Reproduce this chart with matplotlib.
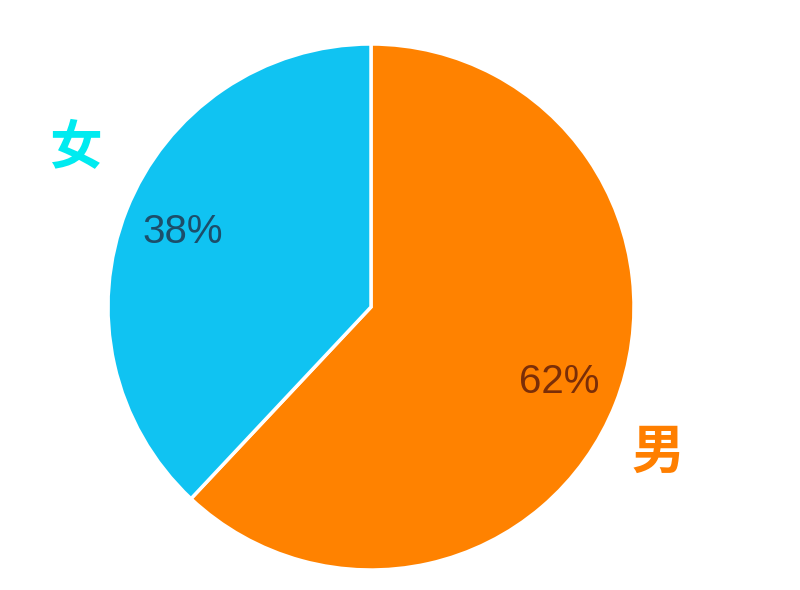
import matplotlib.pyplot as plt

# data
labels = ["男", "女"]
shares = [62, 38]
colors = ["#FF8200", "#10C3F2"]
label_colors = ["#FF7F00", "#00EBF0"]
pct_colors = ["#7A2E08", "#1C4E6A"]

W, H = 800, 590
fig = plt.figure(figsize=(W / 100, H / 100), dpi=100)
ax = fig.add_axes([0, 0, 1, 1])

cx, cy, r = 371, H - 307, 263

wedges, texts, autotexts = ax.pie(
    shares, colors=colors, startangle=90, counterclock=False,
    center=(cx, cy), radius=r, autopct="%d%%", pctdistance=0.77,
    wedgeprops=dict(edgecolor="white", linewidth=2.5),
    textprops=dict(fontsize=29, family="Liberation Sans"),
)
for t, c in zip(autotexts, pct_colors):
    t.set_color(c)

# pie() resets the limits, so set them afterwards
ax.set_xlim(0, W)
ax.set_ylim(0, H)
ax.set_aspect("equal")
ax.axis("off")

# category labels outside the pie
label_pos = [(658, H - 452), (76, H - 148)]
for name, (x, y), c in zip(labels, label_pos, label_colors):
    ax.text(x, y, name, color=c, fontsize=38, fontweight="bold",
            family=["Noto Sans CJK SC", "DejaVu Sans"],
            ha="center", va="center")

fig.savefig("out.png", dpi=100)
